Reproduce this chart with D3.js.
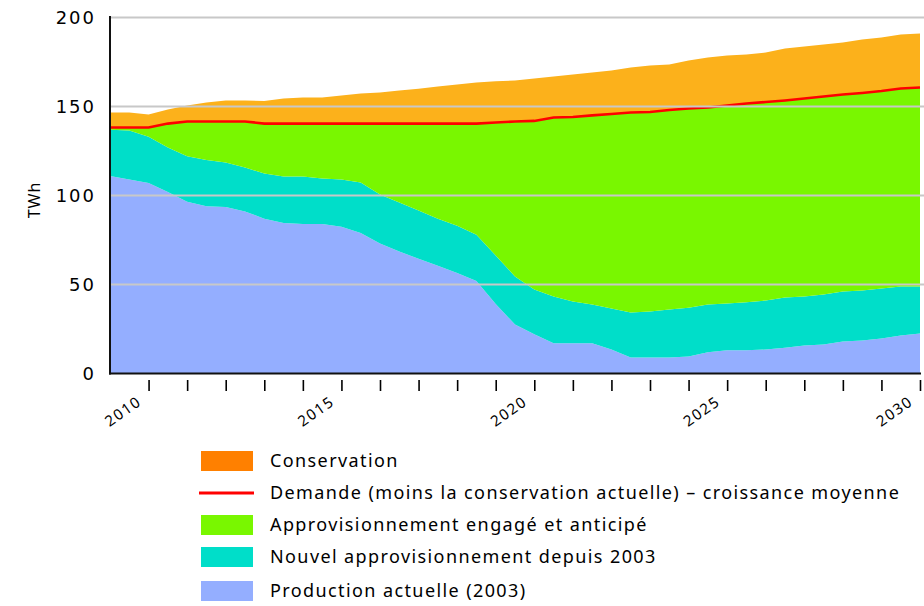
<!DOCTYPE html>
<html><head><meta charset="utf-8">
<script src="https://cdn.jsdelivr.net/npm/d3@7"></script>
<style>
html,body{margin:0;padding:0;background:#fff;}
svg{display:block;}
text{font-family:"Noto Sans","DejaVu Sans",sans-serif;fill:#000;}
</style></head>
<body>
<svg id="chart" width="924" height="606"></svg>
<script>
// ---- data, half-year steps 2009 -> 2030 ----
const years = d3.range(0, 43).map(i => 2009 + i * 0.5);
const production = [111,109,107,102,96.5,94,93.5,91,87,84.5,84,84,82.5,79,73,68.5,64.5,60.5,56.5,52,39,27.5,22,17,17,17,13.5,9,9,9,9.5,12,13,13,13.5,14.5,15.7,16.3,18,18.5,19.7,21.3,22.5];
const newSupply = [26,27.5,26,25,25.5,26,25,24.7,25.4,26.2,26.7,25.5,26.5,28.3,27.6,27.5,27.1,26.5,26.5,26,27.3,27,25.2,26.3,23.4,21.8,23,25.3,25.8,27,27.5,26.8,26.3,27,27.5,28.2,27.6,28.1,28,28.1,28.1,27.6,26.4];
const committed = [1.2,1.7,5.2,13.4,19.6,21.6,23.1,25.9,28,29.7,29.7,30.9,31.4,33.1,39.8,44.4,48.8,53.4,57.4,62.4,74.7,87.1,94.7,100.5,103.7,106.2,109.3,112.3,112.1,112,111.9,110.6,111.3,111.7,111.5,110.7,111.2,111.2,110.7,111,110.9,111.2,111.8];
const conservation = [8.4,8.4,7.3,7.9,9,10.6,11.8,11.8,12.7,14.1,14.6,14.6,15.8,16.9,17.5,18.6,19.6,20.8,22,23.1,23.2,23,23.8,23.1,23.9,24.1,24.4,25.3,26.1,25.6,26.9,28.1,28.1,27.5,27.8,29.2,29.2,29.2,29.3,30,30.1,30.3,30.3];
const demand = [138.2,138.2,138.2,140.4,141.6,141.6,141.6,141.6,140.4,140.4,140.4,140.4,140.4,140.4,140.4,140.4,140.4,140.4,140.4,140.4,141,141.6,141.9,143.8,144.1,145,145.8,146.6,146.9,148,148.9,149.4,150.6,151.7,152.5,153.4,154.5,155.6,156.7,157.6,158.7,160.1,160.7];
const yTicks = [0, 50, 100, 150, 200];
const xTickYears = d3.range(2010, 2031);
const xLabelYears = [2010, 2015, 2020, 2025, 2030];
const seriesKeys = ["production", "newSupply", "committed", "conservation"];
const seriesColors = {production:"#94AEFF", newSupply:"#00DEC9", committed:"#79F700", conservation:"#FCB11B"};
const legendItems = [
  {label:"Conservation", type:"rect", color:"#FF8000"},
  {label:"Demande (moins la conservation actuelle) \u2013 croissance moyenne", type:"line", color:"#FF0000"},
  {label:"Approvisionnement engag\u00e9 et anticip\u00e9", type:"rect", color:"#79F700"},
  {label:"Nouvel approvisionnement depuis 2003", type:"rect", color:"#00DEC9"},
  {label:"Production actuelle (2003)", type:"rect", color:"#94AEFF"}
];

// ---- build table ----
const table = years.map((yr, i) => ({
  year: yr, production: production[i], newSupply: newSupply[i],
  committed: committed[i], conservation: conservation[i], demand: demand[i]
}));

const svg = d3.select("#chart");
const x = d3.scaleLinear().domain([2009, 2030]).range([110, 920]);
const y = d3.scaleLinear().domain([0, 200]).range([373.5, 17.5]);

const stack = d3.stack().keys(seriesKeys);
const stacked = stack(table);
const area = d3.area().x(d => x(d.data.year)).y0(d => y(d[0])).y1(d => y(d[1]));

svg.append("g").selectAll("path").data(stacked).join("path")
  .attr("d", area).attr("fill", d => seriesColors[d.key]);

// demand line
svg.append("path").datum(table)
  .attr("d", d3.line().x(d => x(d.year)).y(d => y(d.demand)))
  .attr("fill", "none").attr("stroke", "#FF0000").attr("stroke-width", 2.6);

// gridlines (drawn on top)
svg.append("g").selectAll("line").data(yTicks.filter(t => t > 0)).join("line")
  .attr("x1", 111).attr("x2", 924).attr("y1", d => y(d)).attr("y2", d => y(d))
  .attr("stroke", "#C8C8C8").attr("stroke-width", 2);

// axis lines
svg.append("line").attr("x1", 110).attr("x2", 110).attr("y1", 16).attr("y2", 374.5)
  .attr("stroke", "#111").attr("stroke-width", 2);
svg.append("line").attr("x1", 109).attr("x2", 921).attr("y1", 373.5).attr("y2", 373.5)
  .attr("stroke", "#111").attr("stroke-width", 2);

// y axis labels
const yAxis = d3.axisLeft(y).tickValues(yTicks).tickSize(0).tickPadding(0).tickFormat(d3.format("d"));
const gy = svg.append("g").attr("transform", "translate(96,0)").call(yAxis);
gy.select(".domain").remove();
gy.selectAll("text").style("font-size", "18px").style("letter-spacing", "2px")
  .style("font-family", "'DejaVu Sans',sans-serif").attr("dy", "0.32em");

svg.append("text").attr("transform", "translate(40,200) rotate(-90)")
  .attr("text-anchor", "middle").style("font-size", "16px").style("letter-spacing", "1px").text("TWh");

// x axis ticks
const xAxis = d3.axisBottom(x).tickValues(xTickYears).tickSize(11).tickFormat("");
const gx = svg.append("g").attr("transform", "translate(0,380)").call(xAxis);
gx.select(".domain").remove();
gx.selectAll("line").attr("stroke", "#000").attr("stroke-width", 1.6);

svg.append("g").selectAll("text").data(xLabelYears).join("text")
  .attr("transform", d => `translate(${x(d) - 6},404) rotate(-35)`)
  .attr("text-anchor", "end").style("font-size", "15px").style("letter-spacing", "1.5px").text(d => d);

// legend
const lg = svg.append("g");
const rowY = [461, 493, 525, 557, 591];
legendItems.forEach((it, i) => {
  const cy = rowY[i];
  if (it.type === "rect") {
    lg.append("rect").attr("x", 201).attr("y", cy - 10).attr("width", 52).attr("height", 20).attr("fill", it.color);
  } else {
    lg.append("line").attr("x1", 199).attr("x2", 254).attr("y1", cy).attr("y2", cy)
      .attr("stroke", it.color).attr("stroke-width", 3);
  }
  lg.append("text").attr("x", 270).attr("y", cy).attr("dy", "0.35em")
    .style("font-size", "18px").style("letter-spacing", "1.4px").text(it.label);
});
</script>
</body></html>
